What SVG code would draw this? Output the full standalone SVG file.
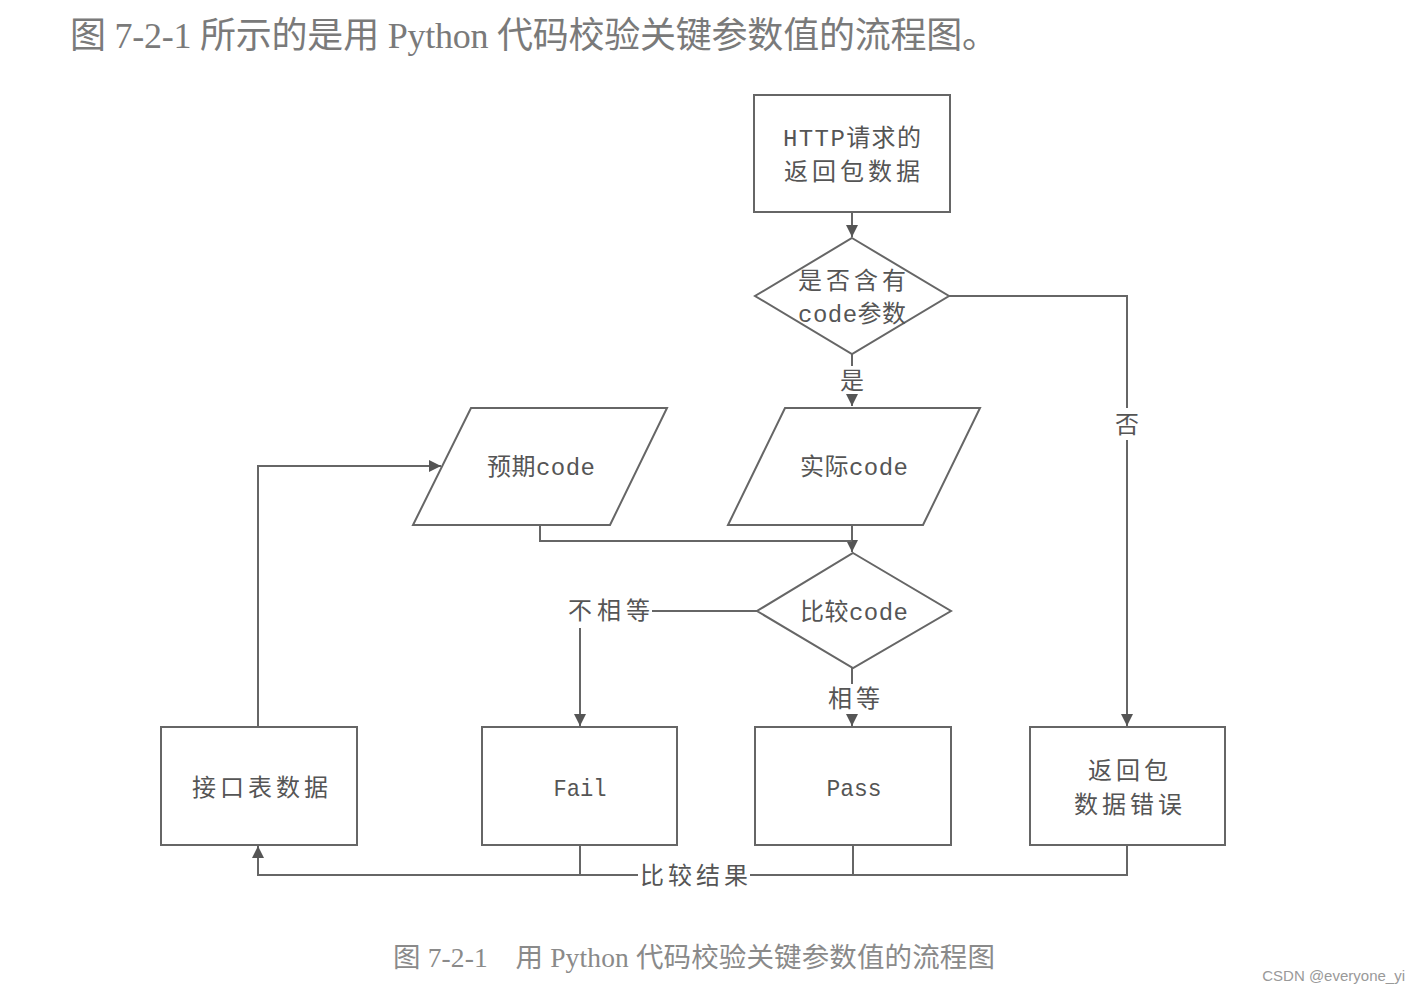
<svg xmlns="http://www.w3.org/2000/svg" width="1419" height="994" viewBox="0 0 1419 994">
<style>
.shape{fill:#fff;stroke:#666;stroke-width:2}
.line{fill:none;stroke:#666;stroke-width:2}
.t{font-family:"Noto Sans CJK SC","Liberation Serif",serif;font-size:24px;fill:#555;text-anchor:middle}
.m{font-family:"Liberation Mono","Noto Sans CJK SC",monospace;}
.title{font-family:"Liberation Serif","Noto Sans CJK SC",serif;font-size:36px;fill:#7a7a7a}
.cap{font-family:"Liberation Serif","Noto Sans CJK SC",serif;font-size:27.5px;fill:#8a8a8a}
.wm{font-family:"Liberation Sans",sans-serif;font-size:15px;fill:#999;text-anchor:end}
</style>
<defs>
<marker id="arr" markerUnits="userSpaceOnUse" markerWidth="14" markerHeight="14" refX="12" refY="6" orient="auto">
<path d="M0,0 L12,6 L0,12 Z" fill="#555"/>
</marker>
</defs>
<rect width="1419" height="994" fill="#fff"/>
<text class="title" x="70" y="48" textLength="928" lengthAdjust="spacing">图 7-2-1 所示的是用 Python 代码校验关键参数值的流程图。</text>

<g id="connectors">
<line class="line" x1="852" y1="212" x2="852" y2="237" marker-end="url(#arr)"/>
<line class="line" x1="852" y1="354" x2="852" y2="366"/>
<line class="line" x1="852" y1="396" x2="852" y2="406" marker-end="url(#arr)"/>
<polyline class="line" points="949,296 1127,296 1127,408"/>
<line class="line" x1="1127" y1="440" x2="1127" y2="726" marker-end="url(#arr)"/>
<line class="line" x1="852" y1="525" x2="852" y2="552" marker-end="url(#arr)"/>
<polyline class="line" points="540,525 540,541 852,541"/>
<line class="line" x1="757" y1="611" x2="652" y2="611"/>
<line class="line" x1="580" y1="628" x2="580" y2="726" marker-end="url(#arr)"/>
<line class="line" x1="852" y1="668" x2="852" y2="684"/>
<line class="line" x1="852" y1="714" x2="852" y2="726" marker-end="url(#arr)"/>
<polyline class="line" points="258,727 258,466 441,466" marker-end="url(#arr)"/>
<polyline class="line" points="1127,845 1127,875 750,875"/>
<polyline class="line" points="638,875 258,875 258,846" marker-end="url(#arr)"/>
<line class="line" x1="580" y1="845" x2="580" y2="875"/>
<line class="line" x1="853" y1="845" x2="853" y2="875"/>
<text class="t" x="852" y="389">是</text>
<text class="t" x="1127" y="433">否</text>
<text class="t" x="609" y="619" textLength="82" lengthAdjust="spacing">不相等</text>
<text class="t" x="854" y="707" textLength="52" lengthAdjust="spacing">相等</text>
<text class="t" x="694" y="884" textLength="108" lengthAdjust="spacing">比较结果</text>
</g>

<g id="n-http">
<rect class="shape" x="754" y="95" width="196" height="117"/>
<text class="t" x="852" y="146" textLength="138" lengthAdjust="spacing"><tspan class="m">HTTP</tspan>请求的</text>
<text class="t" x="852" y="180" textLength="136" lengthAdjust="spacing">返回包数据</text>
</g>

<g id="n-hascode">
<polygon class="shape" points="852,238 949,296 852,354 755,296"/>
<text class="t" x="852" y="289" textLength="108" lengthAdjust="spacing">是否含有</text>
<text class="t" x="852" y="322" textLength="108" lengthAdjust="spacing"><tspan class="m">code</tspan>参数</text>
</g>

<g id="n-expected">
<polygon class="shape" points="471,408 667,408 610,525 413,525"/>
<text class="t" x="541" y="475" textLength="108" lengthAdjust="spacing">预期<tspan class="m">code</tspan></text>
</g>

<g id="n-actual">
<polygon class="shape" points="785,408 980,408 923,525 728,525"/>
<text class="t" x="854" y="475" textLength="108" lengthAdjust="spacing">实际<tspan class="m">code</tspan></text>
</g>

<g id="n-compare">
<polygon class="shape" points="853,553 951,611 853,668 757,611"/>
<text class="t" x="854" y="620" textLength="108" lengthAdjust="spacing">比较<tspan class="m">code</tspan></text>
</g>

<g id="n-table">
<rect class="shape" x="161" y="727" width="196" height="118"/>
<text class="t" x="260" y="796" textLength="136" lengthAdjust="spacing">接口表数据</text>
</g>

<g id="n-fail">
<rect class="shape" x="482" y="727" width="195" height="118"/>
<text class="t m" x="580" y="796" textLength="53" lengthAdjust="spacingAndGlyphs">Fail</text>
</g>

<g id="n-pass">
<rect class="shape" x="755" y="727" width="196" height="118"/>
<text class="t m" x="854" y="796" textLength="55" lengthAdjust="spacingAndGlyphs">Pass</text>
</g>

<g id="n-error">
<rect class="shape" x="1030" y="727" width="195" height="118"/>
<text class="t" x="1128" y="779" textLength="80" lengthAdjust="spacing">返回包</text>
<text class="t" x="1128" y="813" textLength="108" lengthAdjust="spacing">数据错误</text>
</g>

<text class="cap" x="393" y="967" textLength="602" lengthAdjust="spacing">图 7-2-1　用 Python 代码校验关键参数值的流程图</text>
<text class="wm" x="1405" y="981">CSDN @everyone_yi</text>
</svg>
